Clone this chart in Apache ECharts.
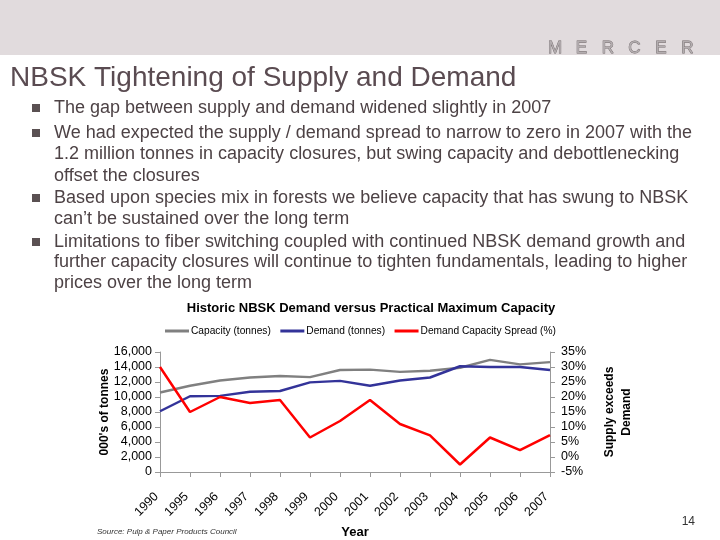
<!DOCTYPE html>
<html><head><meta charset="utf-8">
<script src="https://cdn.jsdelivr.net/npm/echarts@6/dist/echarts.min.js"></script>
<style>html,body{margin:0;padding:0;background:#fff}#c{width:720px;height:540px}</style>
</head><body><div id="c"></div>
<script>
const years = ['1990','1995','1996','1997','1998','1999','2000','2001','2002','2003','2004','2005','2006','2007'];
const capacity = [10600,11500,12200,12600,12800,12650,13600,13650,13350,13500,13900,14950,14350,14650];
const demand = [8100,10100,10150,10700,10800,11950,12150,11500,12200,12600,14100,14000,14000,13600];
const spread = [30,15,20,18,19,6.5,12,19,11,7.2,-2.5,6.5,2.3,7.3];
const leftTicks = [0,16000,2000];
const rightTicks = [-5,35,5];

const slideTitle = 'NBSK Tightening of Supply and Demand';
const logoLetters = ['M','E','R','C','E','R'];
const bulletLines = [
  ['The gap between supply and demand widened slightly in 2007'],
  ['We had expected the supply / demand spread to narrow to zero in 2007 with the',
   '1.2 million tonnes in capacity closures, but swing capacity and debottlenecking',
   'offset the closures'],
  ['Based upon species mix in forests we believe capacity that has swung to NBSK',
   'can\u2019t be sustained over the long term'],
  ['Limitations to fiber switching coupled with continued NBSK demand growth and',
   'further capacity closures will continue to tighten fundamentals, leading to higher',
   'prices over the long term']
];
const lineYs = [[108],[133,154,176],[198,219],[242,262,283]];

const FONT = '"Liberation Sans", Arial, Helvetica, sans-serif';
const txtColor = '#4d4245';
const graphics = [
  {type:'rect', shape:{x:0,y:0,width:720,height:55}, style:{fill:'#e1dbdd'}, z:0},
  {type:'text', style:{text:slideTitle, x:10, y:78, verticalAlign:'middle',
    font:'28px '+FONT, fill:'#5a4b51'}},
  {type:'text', style:{text:'Source: Pulp & Paper Products Council', x:97, y:532, verticalAlign:'middle',
    font:'italic 8px '+FONT, fill:'#333'}},
  {type:'text', style:{text:'14', x:695, y:522, align:'right', verticalAlign:'middle',
    font:'12px '+FONT, fill:'#333'}}
];
logoLetters.forEach((l,i)=>{
  graphics.push({type:'text', style:{text:l, x:555+i*26.5, y:48, align:'center', verticalAlign:'middle',
    font:'17px '+FONT, fill:'#b3adaf', stroke:'#6f6769', lineWidth:0.8}});
});
bulletLines.forEach((grp,i)=>{
  graphics.push({type:'rect', shape:{x:32,y:lineYs[i][0]-4,width:8,height:8}, style:{fill:'#5a5052'}});
  grp.forEach((t,j)=>{
    graphics.push({type:'text', style:{text:t, x:54, y:lineYs[i][j], verticalAlign:'middle',
      font:'18px '+FONT, fill:txtColor}});
  });
});

const chart = echarts.init(document.getElementById('c'), null, {renderer:'canvas'});
chart.setOption({
  animation:false,
  textStyle:{fontFamily:FONT},
  title:{text:'Historic NBSK Demand versus Practical Maximum Capacity', left:366, textAlign:'center', top:297,
    textStyle:{fontSize:13, fontWeight:'bold', color:'#000'}},
  legend:{top:321, left:160, itemGap:9.5, itemWidth:24, itemHeight:3, icon:'rect',
    textStyle:{fontSize:10.2, color:'#000', padding:[0,0,0,-3]},
    data:['Capacity (tonnes)','Demand (tonnes)','Demand Capacity Spread (%)']},
  grid:{left:160, right:170, top:352, bottom:63},
  xAxis:{type:'category', data:years, boundaryGap:false,
    name:'Year', nameLocation:'middle', nameGap:54, nameMoveOverlap:false,
    nameTextStyle:{fontSize:13, fontWeight:'bold', color:'#000'},
    axisLine:{lineStyle:{color:'#999'}}, axisTick:{lineStyle:{color:'#999'}, alignWithLabel:true},
    axisLabel:{rotate:45, fontSize:12.5, color:'#000', interval:0, margin:19, padding:[0,5,0,0]}},
  yAxis:[
    {type:'value', min:leftTicks[0], max:leftTicks[1], interval:leftTicks[2], position:'left',
      name:"000's of tonnes", nameLocation:'middle', nameGap:49, nameMoveOverlap:false,
      nameTextStyle:{fontSize:12, fontWeight:'bold', color:'#000'},
      axisLine:{show:true, lineStyle:{color:'#999'}}, axisTick:{show:true, lineStyle:{color:'#999'}},
      splitLine:{show:false},
      axisLabel:{fontSize:12.5, color:'#000', margin:8, formatter:v=>v.toLocaleString('en-US')}},
    {type:'value', min:rightTicks[0], max:rightTicks[1], interval:rightTicks[2], position:'right',
      name:'Supply exceeds\nDemand', nameLocation:'middle', nameGap:51, nameMoveOverlap:false,
      nameTextStyle:{fontSize:12, fontWeight:'bold', color:'#000', lineHeight:17},
      axisLine:{show:true, lineStyle:{color:'#999'}}, axisTick:{show:true, lineStyle:{color:'#999'}},
      splitLine:{show:false},
      axisLabel:{fontSize:12.5, color:'#000', margin:11, formatter:'{value}%'}}
  ],
  series:[
    {name:'Capacity (tonnes)', type:'line', data:capacity, yAxisIndex:0, symbol:'none',
      lineStyle:{color:'#808080', width:2.5}, itemStyle:{color:'#808080'}},
    {name:'Demand (tonnes)', type:'line', data:demand, yAxisIndex:0, symbol:'none',
      lineStyle:{color:'#333399', width:2.5}, itemStyle:{color:'#333399'}},
    {name:'Demand Capacity Spread (%)', type:'line', data:spread, yAxisIndex:1, symbol:'none',
      lineStyle:{color:'#ff0000', width:2.5}, itemStyle:{color:'#ff0000'}}
  ],
  graphic:graphics
});
</script></body></html>
